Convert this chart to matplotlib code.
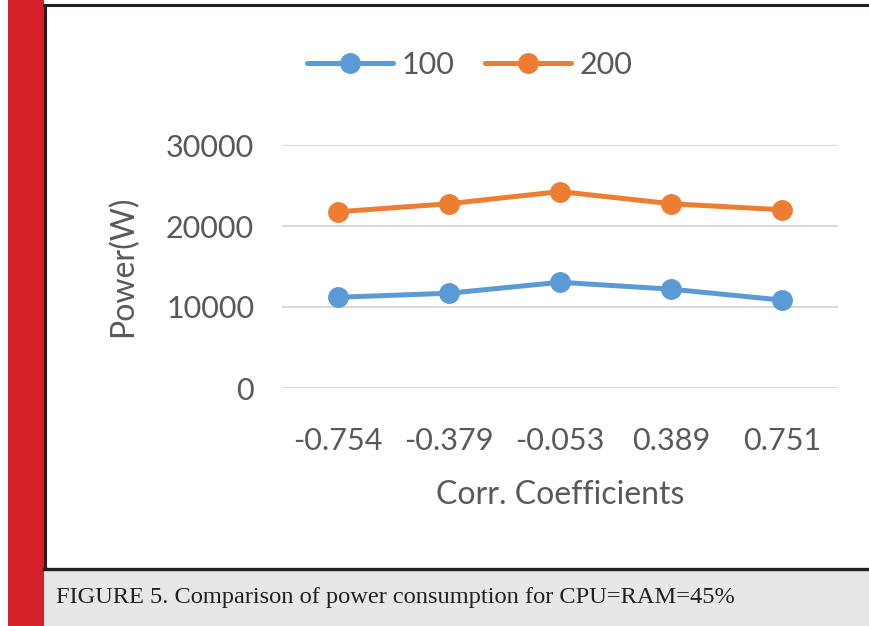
import matplotlib.pyplot as plt
from matplotlib.patches import Rectangle
from matplotlib.lines import Line2D

# data
coefficients = ["-0.754", "-0.379", "-0.053", "0.389", "0.751"]
power_100 = [11200, 11700, 13050, 12200, 10850]
power_200 = [21750, 22750, 24250, 22750, 22000]
series_names = ["100", "200"]

W, H = 869, 626
fig = plt.figure(figsize=(W / 100, H / 100), dpi=100)
fig.patch.set_facecolor("white")

# page decoration: red side bar, frame lines, caption box
fig.add_artist(Rectangle((8 / W, 0), 36 / W, 1, transform=fig.transFigure,
                         facecolor="#d42027", edgecolor="none"))
fig.add_artist(Rectangle((44 / W, 0), (W - 44) / W, 56 / H, transform=fig.transFigure,
                         facecolor="#e6e7e9", edgecolor="none"))
fig.add_artist(Line2D([44 / W, 1], [1 - 5 / H, 1 - 5 / H], transform=fig.transFigure,
                      color="#231f20", lw=2.2))
fig.add_artist(Line2D([44 / W, 1], [57 / H, 57 / H], transform=fig.transFigure,
                      color="#231f20", lw=2.4))
fig.add_artist(Line2D([45 / W, 45 / W], [57 / H, 1 - 5 / H], transform=fig.transFigure,
                      color="#231f20", lw=2.2))
fig.text(56 / W, 28 / H, "FIGURE 5. Comparison of power consumption for CPU=RAM=45%",
         family="Liberation Serif", fontsize=17.6, color="#231f20", va="center", ha="left")

# chart
ax = fig.add_axes([282 / W, (H - 388) / H, 556 / W, 243 / H])
x = range(len(coefficients))
ax.plot(x, power_100, color="#5b9bd5", lw=3.6, marker="o", ms=14, label=series_names[0],
        solid_capstyle="round")
ax.plot(x, power_200, color="#ed7d31", lw=3.6, marker="o", ms=14, label=series_names[1],
        solid_capstyle="round")

ax.set_xlim(-0.5, len(coefficients) - 0.5)
ax.set_ylim(0, 30000)
ax.set_yticks([0, 10000, 20000, 30000])
ax.set_xticks(list(x))
ax.set_xticklabels(coefficients)
ax.grid(axis="y", color="#d9d9d9", lw=1.5)
ax.set_axisbelow(True)
for s in ax.spines.values():
    s.set_visible(False)
ax.tick_params(length=0, labelsize=22, labelcolor="#595959")
ax.tick_params(axis="x", pad=28)
ax.tick_params(axis="y", pad=20)
for lab in ax.get_xticklabels() + ax.get_yticklabels():
    lab.set_family("Lato")

ax.set_xlabel("Corr. Coefficients", family="Lato", fontsize=23, color="#595959", labelpad=18)
ax.set_ylabel("Power(W)", family="Lato", fontsize=23, color="#595959", labelpad=20)

ax.legend(loc="center", bbox_to_anchor=(470 / W, 1 - 65 / H), bbox_transform=fig.transFigure,
          ncol=2, frameon=False, prop={"family": "Lato", "size": 22},
          handlelength=2.8, handletextpad=0.3, columnspacing=1.0, labelcolor="#595959")

fig.savefig("out.png", dpi=100)
